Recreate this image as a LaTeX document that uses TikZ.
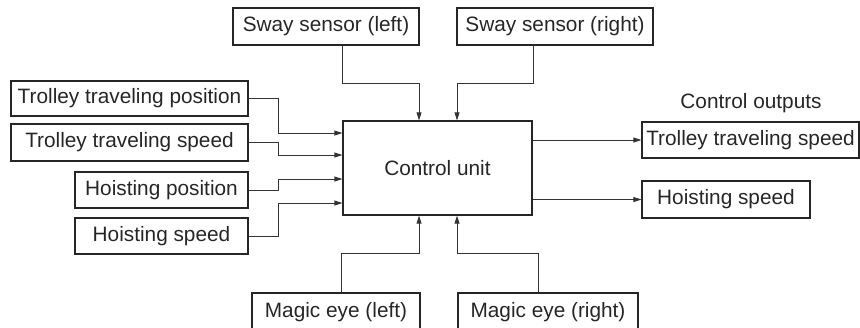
\documentclass[tikz,border=0pt]{standalone}
\usepackage{fontspec}
\setmainfont{Liberation Sans}
\usetikzlibrary{arrows.meta}
\begin{document}
\begin{tikzpicture}[x=1pt,y=-1pt,
  box/.style={draw=black!85,line width=1.3pt,inner sep=0pt,align=center,
    font=\fontsize{20.8}{24}\selectfont,text=black!85},
  lbl/.style={inner sep=0pt,font=\fontsize{20.8}{24}\selectfont,text=black!85},
  arr/.style={draw=black!80,line width=0.9pt,-{Triangle[length=8pt,width=5pt]}}]
\useasboundingbox (0,0) rectangle (860,327);
% inputs left
\node[box,minimum width=237pt,minimum height=35pt] (ttp) at (129.5,98.5) {Trolley traveling position};
\node[box,minimum width=237pt,minimum height=37pt] (tts) at (129.5,142.5) {Trolley traveling speed};
\node[box,minimum width=173pt,minimum height=36pt] (hp) at (161.5,190) {Hoisting position};
\node[box,minimum width=173pt,minimum height=36pt] (hs) at (161.5,236) {Hoisting speed};
% top
\node[box,minimum width=186pt,minimum height=37pt] (swl) at (326,26.5) {Sway sensor (left)};
\node[box,minimum width=196pt,minimum height=37pt] (swr) at (555,26.5) {Sway sensor (right)};
% control unit
\node[box,minimum width=189pt,minimum height=94pt] (cu) at (437.5,168) {Control unit};
% bottom
\node[box,minimum width=168pt,minimum height=38pt] (mel) at (336,312) {Magic eye (left)};
\node[box,minimum width=180pt,minimum height=38pt] (mer) at (548,312) {Magic eye (right)};
% outputs
\node[lbl] (co) at (751,103) {Control outputs};
\node[box,minimum width=217pt,minimum height=36pt] (ot) at (750.5,140) {Trolley traveling speed};
\node[box,minimum width=168pt,minimum height=37pt] (oh) at (726,199.5) {Hoisting speed};
% connectors left
\draw[arr] (ttp.east) -- ++(30,0) |- ([yshift=35pt]cu.west);
\draw[arr] (tts.east) -- ++(30,0) |- ([yshift=13pt]cu.west);
\draw[arr] (hp.east) -- ++(30,0) |- ([yshift=-11pt]cu.west);
\draw[arr] (hs.east) -- ++(30,0) |- ([yshift=-35pt]cu.west);
% connectors top
\draw[arr] ([xshift=16pt]swl.south) -- ++(0,38) -| ([xshift=-18.5pt]cu.north);
\draw[arr] ([xshift=-22pt]swr.south) -- ++(0,38) -| ([xshift=19.5pt]cu.north);
% connectors bottom
\draw[arr] ([xshift=5pt]mel.north) -- ++(0,-39) -| ([xshift=-18.5pt]cu.south);
\draw[arr] ([xshift=-10pt]mer.north) -- ++(0,-39) -| ([xshift=19.5pt]cu.south);
% outputs
\draw[arr] (cu.east |- ot.west) -- (ot.west);
\draw[arr] (cu.east |- oh.west) -- (oh.west);
\end{tikzpicture}
\end{document}
